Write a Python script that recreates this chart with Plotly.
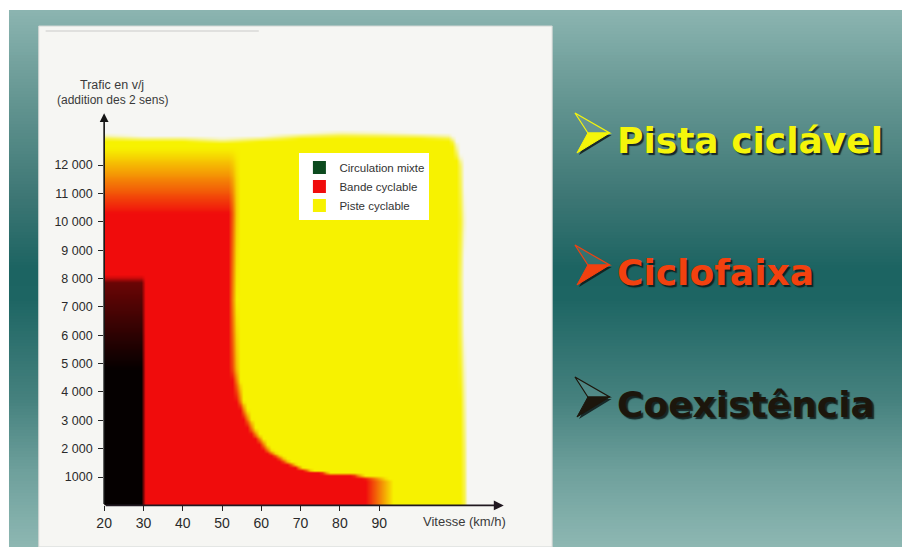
import numpy as np
import plotly.graph_objects as go

W, H = 902, 547
FW = 910   # figure width (a little wider so the slide background reaches the right edge)

# ---------------- data ----------------
speed_ticks = [20, 30, 40, 50, 60, 70, 80, 90]
traffic_ticks = [1000, 2000, 3000, 4000, 5000, 6000, 7000, 8000, 9000, 10000, 11000, 12000]
traffic_tick_labels = ["1000", "2 000", "3 000", "4 000", "5 000", "6 000", "7 000",
                       "8 000", "9 000", "10 000", "11 000", "12 000"]

legend_names = ["Circulation mixte", "Bande cyclable", "Piste cyclable"]

# Circulation mixte (black): 20-30 km/h, up to ~8000 v/j (solid below ~4800)
mixed_speed_min, mixed_speed_max = 20, 30
mixed_traffic_max = 8000
mixed_traffic_solid = 4800

# Bande cyclable (red) upper speed limit, read along traffic
lane_limit_traffic = [0, 900, 1000, 1060, 1130, 1270, 1550, 1970, 2680, 3730, 4790, 7250, 12200, 13500]
lane_limit_speed = [90, 90, 88, 84, 77, 71, 66, 61.5, 57.7, 54.4, 53, 52.5, 53, 53]
lane_full_traffic = 10300   # fully red below
lane_fade_traffic = 12600   # red fades into yellow up to here

# Piste cyclable (yellow) outline
track_top_speed = [20, 30, 40, 50, 60, 70, 80, 90, 100, 108, 112]
track_top_traffic = [13000, 12950, 12950, 12880, 12950, 13050, 13100, 13080, 13050, 13000, 12700]
track_right_traffic = [0, 2000, 4000, 6000, 8000, 10000, 12000, 13000]
track_right_speed = [111.8, 111.6, 111.2, 110.8, 110.6, 111.0, 110.6, 108.5]

# ---------------- style ----------------
lane_edge_kmh = [7, 7, 5, 3, 2, 2, 2, 2, 2, 2, 2, 2, 2, 2]
PANEL = "#f6f6f3"
YELLOW = "#f7f200"
RED = "#f00c0c"
BLACK = "#050000"
GREEN = "#0c4a1e"
OFFX = 7  # horizontal page offset compensation

def px(x):
    return (x - OFFX) / FW

def py(y):
    return 1 - y / H

# ---------------- zone grid (derived from the arrays above) ----------------
xs = np.arange(20.5, 113.0, 1.0)
ys = np.arange(50, 13400, 100.0)
S, T = np.meshgrid(xs, ys)

ytop = np.interp(S, track_top_speed, track_top_traffic)
yright = np.interp(T, track_right_traffic, track_right_speed)
yellow = np.clip((ytop - T) / 200 + 0.5, 0, 1) * np.clip((yright - S) / 1.5 + 0.5, 0, 1)

rlim = np.interp(T, lane_limit_traffic, lane_limit_speed)
rw = np.interp(T, lane_limit_traffic, lane_edge_kmh)
red = np.clip((rlim - S) / rw + 0.5, 0, 1) * np.clip(
    (lane_fade_traffic - T) / (lane_fade_traffic - lane_full_traffic), 0, 1)

z = yellow + red
blk = ((S >= mixed_speed_min) & (S < mixed_speed_max)).astype(float) * np.clip(
    (mixed_traffic_max - T) / 200 + 0.5, 0, 1)
blk_val = 3 - 0.45 * np.clip((T - mixed_traffic_solid) / (mixed_traffic_max - mixed_traffic_solid), 0, 1)
z = z * (1 - blk) + blk * blk_val

fig = go.Figure()
fig.add_trace(go.Heatmap(
    x=xs, y=ys, z=z, zmin=0, zmax=3, zsmooth="best", showscale=False,
    hoverinfo="skip", showlegend=False,
    colorscale=[[0, PANEL], [1 / 3, YELLOW], [2 / 3, RED], [1, BLACK]],
))

for name, col in zip(legend_names, [GREEN, RED, YELLOW]):
    fig.add_trace(go.Scatter(x=[None], y=[None], mode="markers", name=name,
                             marker=dict(symbol="square", size=13, color=col)))

# ---------------- background slide ----------------
shapes = []
stops_y = [10, 100, 200, 270, 300, 400, 470, 547]
stops_c = [(140, 181, 177), (100, 150, 146), (60, 118, 116), (28, 100, 98),
           (30, 102, 100), (70, 130, 127), (110, 160, 156), (142, 184, 179)]
for y0 in range(10, 547, 3):
    yc = y0 + 1.5
    c = [int(np.interp(yc, stops_y, [s[i] for s in stops_c])) for i in range(3)]
    shapes.append(dict(type="rect", xref="paper", yref="paper", layer="below",
                       x0=px(8), x1=1, y0=py(min(y0 + 3.6, 547)), y1=py(y0),
                       fillcolor=f"rgb({c[0]},{c[1]},{c[2]})", line=dict(width=0)))
shapes.append(dict(type="rect", xref="paper", yref="paper", layer="below",
                   x0=px(38), x1=px(556), y0=py(547), y1=py(26),
                   fillcolor=PANEL, line=dict(color="#d2d6d4", width=1)))
shapes.append(dict(type="line", xref="paper", yref="paper", layer="below",
                   x0=px(45), x1=px(260), y0=py(31), y1=py(31),
                   line=dict(color="rgba(120,120,120,0.35)", width=1)))

# bullets (3D arrowheads)
bullets = [("Pista ciclável", "#f5f50a", 153), ("Ciclofaixa", "#f2410f", 285),
           ("Coexistência", "#1c160c", 417)]

def path(pts):
    return "M " + " L ".join(f"{px(a):.5f},{py(b):.5f}" for a, b in pts) + " Z"

annotations = []
for text, col, B in bullets:
    top = (579, B - 40)
    tip = (614, B - 20)
    bot = (581, B)
    notch = (592, B - 20)
    shapes.append(dict(type="path", xref="paper", yref="paper",
                       path=path([(notch[0] + 2, notch[1] + 2), (tip[0] + 2, tip[1] + 2), (bot[0] + 2, bot[1] + 2)]),
                       fillcolor="rgba(15,25,25,0.85)", line=dict(width=0)))
    shapes.append(dict(type="path", xref="paper", yref="paper",
                       path=path([top, tip, notch]),
                       fillcolor="rgba(255,255,255,0.08)", line=dict(color=col, width=1.2)))
    shapes.append(dict(type="path", xref="paper", yref="paper",
                       path=path([notch, tip, bot]),
                       fillcolor=col, line=dict(color=col, width=1)))
    annotations.append(dict(
        text=f"<b>{text}</b>", xref="paper", yref="paper", showarrow=False,
        x=px(619), y=py(B - 12.5), xanchor="left", yanchor="middle",
        font=dict(family="DejaVu Sans", size=36, color=col,
                  shadow="2px 2px 1px rgba(12,22,22,0.85)")))

# axis titles
annotations += [
    dict(text="Trafic en v/j", xref="paper", yref="paper", showarrow=False,
         x=px(112), y=py(85), xanchor="center", yanchor="middle",
         font=dict(family="Liberation Sans", size=12.5, color="#3a3a3a")),
    dict(text="(addition des 2 sens)", xref="paper", yref="paper", showarrow=False,
         x=px(112), y=py(100), xanchor="center", yanchor="middle",
         font=dict(family="Liberation Sans", size=12, color="#3a3a3a")),
    dict(text="Vitesse (km/h)", xref="paper", yref="paper", showarrow=False,
         x=px(424), y=py(521), xanchor="left", yanchor="middle",
         font=dict(family="Liberation Sans", size=13, color="#3a3a3a")),
    # axis arrows
    dict(x=20, y=13830, ax=20, ay=0, xref="x", yref="y", axref="x", ayref="y",
         text="", showarrow=True, arrowhead=2, arrowsize=1.1, arrowwidth=1.6, arrowcolor="#151515"),
    dict(x=121.7, y=0, ax=20, ay=0, xref="x", yref="y", axref="x", ayref="y",
         text="", showarrow=True, arrowhead=2, arrowsize=1.1, arrowwidth=1.8, arrowcolor="#201820"),
]

x_dom = [px(104), px(104 + 103 * 3.964)]
y_dom = [py(505.4), py(505.4 - 14 * 28.36)]

fig.update_layout(
    width=FW, height=H, autosize=False,
    margin=dict(l=0, r=0, t=0, b=0),
    paper_bgcolor="white", plot_bgcolor="rgba(0,0,0,0)",
    shapes=shapes, annotations=annotations,
    showlegend=True,
    legend=dict(x=px(301), y=py(153), xanchor="left", yanchor="top",
                bgcolor="#ffffff", borderwidth=0,
                font=dict(family="Liberation Sans", size=11.5, color="#333333"),
                itemwidth=30, tracegroupgap=0),
    xaxis=dict(domain=x_dom, range=[20, 123], showgrid=False, zeroline=False, showline=False,
               tickvals=speed_ticks, ticks="outside", ticklen=5, tickwidth=1.2, tickcolor="#222",
               tickfont=dict(family="Liberation Sans", size=14, color="#2a2a2a"), fixedrange=True),
    yaxis=dict(domain=y_dom, range=[0, 14000], showgrid=False, zeroline=False, showline=False,
               tickvals=traffic_ticks, ticktext=traffic_tick_labels, ticks="outside",
               ticklen=5, tickwidth=1.2, tickcolor="#222", ticklabelstandoff=3,
               tickfont=dict(family="Liberation Sans", size=12.5, color="#2a2a2a"), fixedrange=True),
)

fig.write_html("out.html", config={"displayModeBar": False},
               post_script=("document.body.style.margin='0';document.body.style.overflow='hidden';"
                            "document.documentElement.style.overflow='hidden';"))
